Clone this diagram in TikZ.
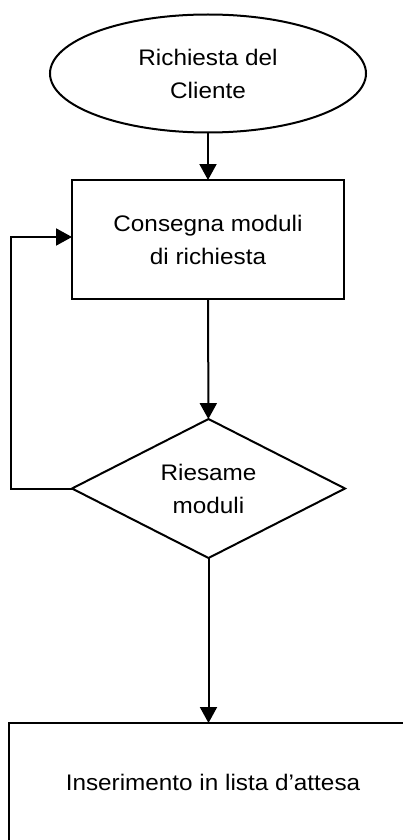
\documentclass[tikz,border=0pt]{standalone}
\usepackage{fontspec}
\setmainfont{Liberation Sans}[FakeStretch=1.08]
\usetikzlibrary{shapes.geometric,arrows.meta}
\tikzset{
  box/.style={draw, line width=2pt, inner sep=0pt, outer sep=0pt, align=center, font=\fontsize{22.5}{33}\selectfont},
  startbox/.style={box, ellipse, minimum width=316pt, minimum height=118pt},
  procbox/.style={box, rectangle, minimum width=272pt, minimum height=119pt},
  decbox/.style={box, diamond, aspect=2, minimum width=273pt, minimum height=139pt},
  finalbox/.style={box, rectangle, minimum width=408pt, minimum height=118pt},
  arr/.style={line width=2pt, -{Triangle[width=17pt,length=16pt]}}
}
\begin{document}
\begin{tikzpicture}[x=1pt,y=-1pt]
\clip (0,0) rectangle (403,840);
\fill[white] (0,0) rectangle (403,840);
\node[startbox] (s) at (208,73.5) {Richiesta del\\Cliente};
\node[procbox] (r1) at (208,239.5) {Consegna moduli\\di richiesta};
\node[decbox] (d) at (208.5,488.5) {Riesame\\moduli};
\node[finalbox] (r2) at (213,782) {Inserimento in lista d'attesa};
\coordinate (lp) at (11,488.5);
\draw[arr] (s) -- (r1);
\draw[arr] (r1) -- (d);
\draw[arr] (d.south) -- (d.south |- r2.north);
\draw[arr] (d.west) -- (lp) |- ([yshift=2.5pt]r1.west);
\end{tikzpicture}
\end{document}
